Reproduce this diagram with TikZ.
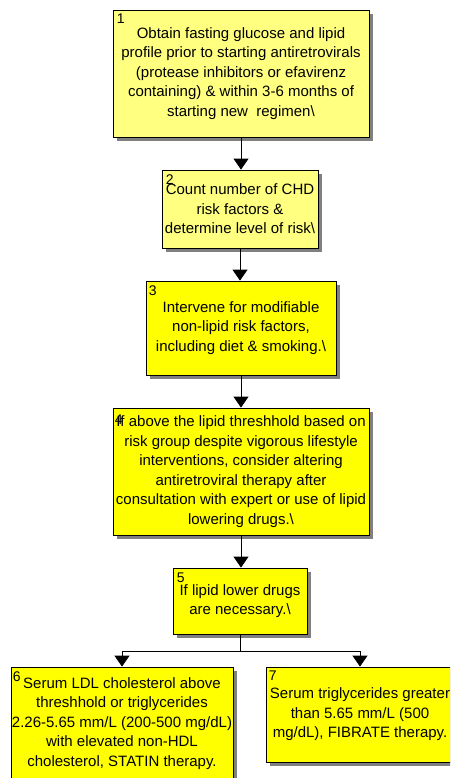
\documentclass[tikz,border=0pt]{standalone}
\usepackage{fontspec}
\setmainfont{Liberation Sans}
\usetikzlibrary{arrows.meta,shadows}
\definecolor{paleyellow}{RGB}{255,255,128}
\definecolor{brightyellow}{RGB}{255,255,0}
\definecolor{shadowgray}{RGB}{128,128,128}
\begin{document}
\begin{tikzpicture}[x=1pt,y=-1pt,
  box/.style={draw=black, line width=0.8pt, inner sep=0pt, align=center,
    font=\fontsize{15}{19.5}\selectfont,
    drop shadow={shadow xshift=4pt, shadow yshift=-4pt, fill=shadowgray, opacity=1}},
  pale/.style={box, fill=paleyellow},
  bright/.style={box, fill=brightyellow},
  num/.style={anchor=north west, inner sep=0pt, font=\fontsize{14}{14}\selectfont},
  conn/.style={line width=0.9pt},
  arr/.style={conn, -{Triangle[width=15pt,length=11pt]}}]
\useasboundingbox (0,0) rectangle (450,778);
\clip (0,0) rectangle (450,778);

\node[pale, minimum width=256pt, minimum height=127pt] (b1) at (241,73.5)
  {Obtain fasting glucose and lipid\\profile prior to starting antiretrovirals\\(protease inhibitors or efavirenz\\containing) \& within 3-6 months of\\starting new\ \ regimen\textbackslash};
\node[num, xshift=4pt, yshift=-4pt] (n1) at (b1.north west) {1};

\node[pale, minimum width=156pt, minimum height=78pt] (b2) at (240,209)
  {Count number of CHD\\risk factors \&\\determine level of risk\textbackslash};
\node[num, xshift=4pt, yshift=-5pt] (n2) at (b2.north west) {2};

\node[bright, minimum width=190pt, minimum height=94pt] (b3) at (241,328)
  {Intervene for modifiable\\non-lipid risk factors,\\including diet \& smoking.\textbackslash};
\node[num, xshift=3pt, yshift=-5pt] (n3) at (b3.north west) {3};

\node[bright, minimum width=256pt, minimum height=127pt] (b4) at (241,471.5)
  {If above the lipid threshhold based on\\risk group despite vigorous lifestyle\\interventions, consider altering\\antiretroviral therapy after\\consultation with expert or use of lipid\\lowering drugs.\textbackslash};
\node[num, xshift=2pt, yshift=-7pt] (n4) at (b4.north west) {4};

\node[bright, minimum width=134pt, minimum height=66pt] (b5) at (240,601)
  {If lipid lower drugs\\are necessary.\textbackslash};
\node[num, xshift=4pt, yshift=-5pt] (n5) at (b5.north west) {5};

\node[bright, minimum width=222pt, minimum height=113pt] (b6) at (122,723.5)
  {Serum LDL cholesterol above\\threshhold or triglycerides\\2.26-5.65 mm/L (200-500 mg/dL)\\with elevated non-HDL\\cholesterol, STATIN therapy.};
\node[num, xshift=2pt, yshift=-5pt] (n6) at (b6.north west) {6};

\node[bright, minimum width=188pt, minimum height=95pt] (b7) at (360,714.5)
  {Serum triglycerides greater\\than 5.65 mm/L (500\\mg/dL), FIBRATE therapy.};
\node[num, xshift=3pt, yshift=-4pt] (n7) at (b7.north west) {7};

\draw[arr] (b1.south) -- (b1.south |- b2.north);
\draw[arr] (b2.south) -- (b2.south |- b3.north);
\draw[arr] (b3.south) -- (b3.south |- b4.north);
\draw[arr] (b4.south) -- (b4.south |- b5.north);
\coordinate (split) at (240,651);
\draw[conn] (b5.south) -- (split);
\draw[arr] (split) -| (b6.north);
\draw[arr] (split) -| (b7.north);
\end{tikzpicture}
\end{document}
